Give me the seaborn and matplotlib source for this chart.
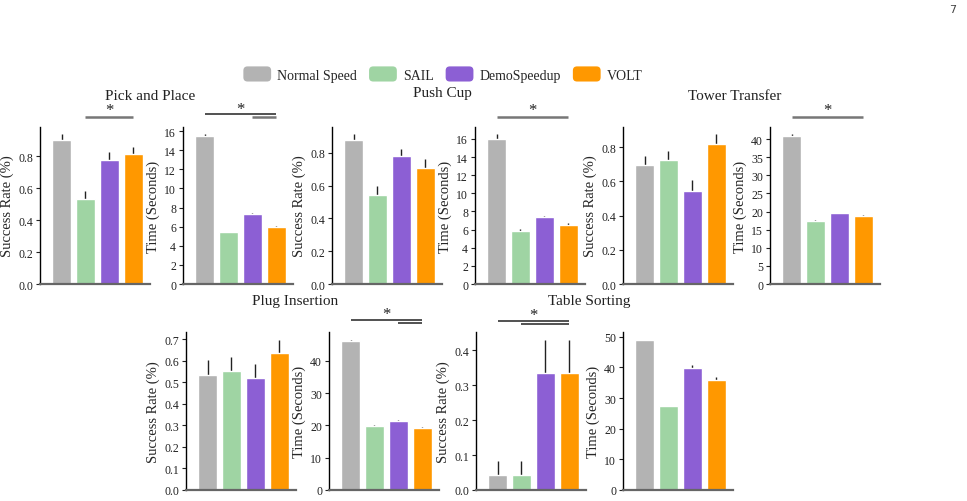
import numpy as np
import matplotlib
matplotlib.use("Agg")
import matplotlib.pyplot as plt
import seaborn as sns
from matplotlib.patches import Patch, FancyBboxPatch
from matplotlib.legend_handler import HandlerPatch
from matplotlib.ticker import MultipleLocator

# data
methods = ["Normal Speed", "SAIL", "DemoSpeedup", "VOLT"]
colors = ["#b3b3b3", "#9fd4a3", "#8c5fd4", "#ff9800"]

pick_sr = [0.902, 0.532, 0.777, 0.814]
pick_sr_err = [0.034, 0.053, 0.048, 0.042]
pick_t = [15.5, 5.42, 7.34, 5.98]
pick_t_err = [0.15, 0.05, 0.08, 0.08]

push_sr = [0.880, 0.544, 0.782, 0.709]
push_sr_err = [0.032, 0.053, 0.043, 0.053]
push_t = [16.04, 5.88, 7.43, 6.54]
push_t_err = [0.45, 0.2, 0.11, 0.2]

tower_sr = [0.697, 0.726, 0.544, 0.820]
tower_sr_err = [0.052, 0.051, 0.065, 0.054]
tower_t = [40.9, 17.4, 19.5, 18.8]
tower_t_err = [0.4, 0.3, 0.2, 0.3]

plug_sr = [0.534, 0.553, 0.520, 0.636]
plug_sr_err = [0.067, 0.063, 0.064, 0.062]
plug_t = [46.1, 19.9, 21.5, 19.3]
plug_t_err = [0.5, 0.2, 0.3, 0.3]

table_sr = [0.042, 0.042, 0.333, 0.333]
table_sr_err = [0.040, 0.040, 0.097, 0.097]
table_t = [49.1, 27.5, 39.9, 36.0]
table_t_err = [0.0, 0.0, 0.8, 0.8]

sns.set_style("ticks")
plt.rcParams["font.family"] = ["Liberation Serif", "DejaVu Serif"]

W, H = 967, 502
fig = plt.figure(figsize=(W / 100, H / 100), dpi=100)


def px_axes(left, bottom, top, width=110):
    return fig.add_axes([left / W, 1 - bottom / H, width / W, (bottom - top) / H])


def panel(ax, vals, errs, step, ylabel):
    sns.barplot(x=methods, y=vals, hue=methods, palette=colors, legend=False,
                width=0.8, errorbar=None, ax=ax, zorder=2, saturation=1)
    # error bars sit behind the bars, so only the upper half shows
    ax.errorbar(range(len(vals)), vals, yerr=errs, fmt="none", ecolor="#222222",
                elinewidth=1.0, capsize=0, zorder=1)
    ax.set_xlim(-0.9, 3.7)
    ax.set_ylim(0, None)
    ax.yaxis.set_major_locator(MultipleLocator(step))
    ax.set_xticks([])
    ax.set_xlabel("")
    ax.set_ylabel(ylabel, fontsize=10.5, labelpad=3)
    ax.tick_params(axis="y", labelsize=8.5, length=3, width=0.8, pad=2, colors="#222222")
    for s in ["top", "right"]:
        ax.spines[s].set_visible(False)
    ax.spines["left"].set_color("black")
    ax.spines["left"].set_linewidth(1.0)
    ax.spines["bottom"].set_color("#666666")
    ax.spines["bottom"].set_linewidth(1.6)


def sig(ax, pairs, ys, cols, lws, star_dy=0.045):
    for (a, b), y, c, lw in zip(pairs, ys, cols, lws):
        ax.plot([a, b], [y, y], color=c, lw=lw, transform=ax.get_xaxis_transform(),
                clip_on=False, solid_capstyle="butt")
    a, b = pairs[0]
    ax.text((a + b) / 2, ys[0] + star_dy, "*", transform=ax.get_xaxis_transform(),
            ha="center", va="center", fontsize=12, color="#222222")


SR = "Success Rate (%)"
TM = "Time (Seconds)"
GRAY = "#777777"
DARK = "#222222"

top_b, top_t = 285, 128
ax1 = px_axes(40, top_b, top_t)
panel(ax1, pick_sr, pick_sr_err, 0.2, SR)
sig(ax1, [(1, 3)], [1.064], [GRAY], [1.8])

ax2 = px_axes(183, top_b, top_t)
panel(ax2, pick_t, pick_t_err, 2, TM)
sig(ax2, [(0, 3), (2, 3)], [1.083, 1.062], [DARK, GRAY], [1.1, 1.8], star_dy=0.03)

ax3 = px_axes(332, top_b, top_t)
panel(ax3, push_sr, push_sr_err, 0.2, SR)

ax4 = px_axes(475, top_b, top_t)
panel(ax4, push_t, push_t_err, 2, TM)
sig(ax4, [(0, 3)], [1.064], [GRAY], [1.8])

ax5 = px_axes(623, top_b, top_t)
panel(ax5, tower_sr, tower_sr_err, 0.2, SR)

ax6 = px_axes(770, top_b, top_t)
panel(ax6, tower_t, tower_t_err, 5, TM)
sig(ax6, [(0, 3)], [1.064], [GRAY], [1.8])

bot_b, bot_t = 491, 333
ax7 = px_axes(186, bot_b, bot_t)
panel(ax7, plug_sr, plug_sr_err, 0.1, SR)

ax8 = px_axes(329, bot_b, bot_t)
panel(ax8, plug_t, plug_t_err, 10, TM)
sig(ax8, [(0, 3), (2, 3)], [1.076, 1.055], [DARK, DARK], [1.1, 1.1], star_dy=0.035)

ax9 = px_axes(476, bot_b, bot_t)
panel(ax9, table_sr, table_sr_err, 0.1, SR)
sig(ax9, [(0, 3), (1, 3)], [1.072, 1.052], [DARK, DARK], [1.1, 1.1], star_dy=0.038)

ax10 = px_axes(623, bot_b, bot_t)
panel(ax10, table_t, table_t_err, 10, TM)

# task titles
titles = [("Pick and Place", 150, 97), ("Push Cup", 442, 94), ("Tower Transfer", 735, 97),
          ("Plug Insertion", 295, 301), ("Table Sorting", 589, 301)]
for t, x, y in titles:
    fig.text(x / W, 1 - y / H, t, ha="center", va="center", fontsize=11, color="#222222")


class RoundHandler(HandlerPatch):
    def create_artists(self, legend, orig_handle, xdescent, ydescent, width, height,
                       fontsize, trans):
        p = FancyBboxPatch((-xdescent, -ydescent), width, height,
                           boxstyle="round,pad=0,rounding_size=3",
                           fc=orig_handle.get_facecolor(), ec="none", transform=trans)
        return [p]


handles = [Patch(facecolor=c, label=m) for c, m in zip(colors, methods)]
fig.legend(handles=handles, loc="center", bbox_to_anchor=(443 / W, 1 - 75 / H), ncol=4,
           frameon=False, fontsize=10, handlelength=2.0, handleheight=1.3,
           handletextpad=0.45, columnspacing=0.85,
           handler_map={Patch: RoundHandler()})

fig.text(953 / W, 1 - 10 / H, "7", ha="center", va="center", fontsize=8,
         color="#444444", family="DejaVu Sans")

fig.savefig("out.png", dpi=100)
